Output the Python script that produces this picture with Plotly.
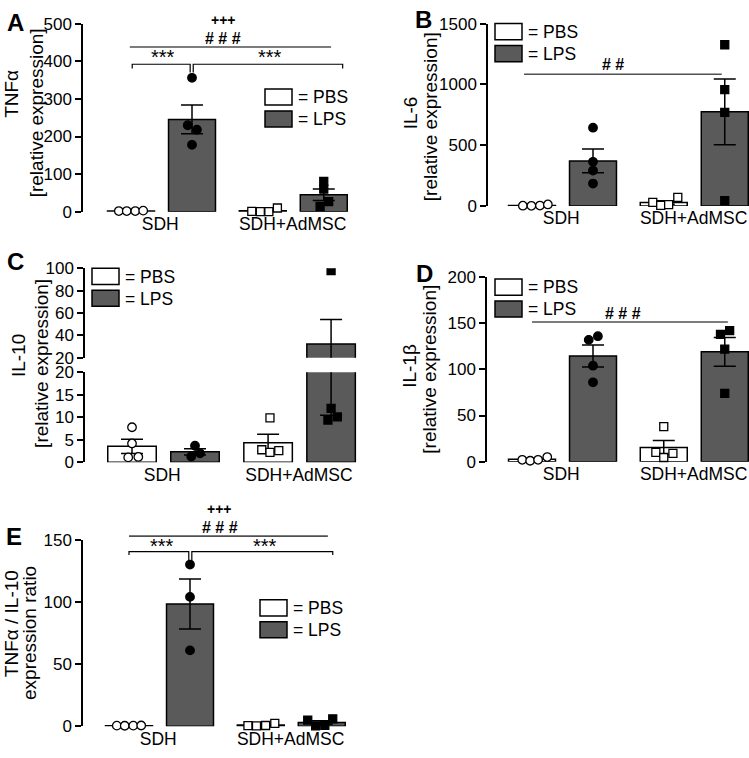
import numpy as np
import plotly.graph_objects as go

W, H = 749, 758
FONT = "Liberation Sans, Arial, sans-serif"
DARK = "#5a5a5a"

# ---------------- data ----------------
groups = ["SDH", "SDH+AdMSC"]
treatments = ["PBS", "LPS"]

tnf_sdh_pbs = [2, 2, 2, 3]
tnf_sdh_lps = [356, 230, 218, 178]
tnf_ad_pbs = [1, 0.5, 0.5, 10]
tnf_ad_lps = [81, 60, 27, 14]

il6_sdh_pbs = [2, 1, 3, 12]
il6_sdh_lps = [644, 363, 291, 184]
il6_ad_pbs = [30, 5, 10, 70]
il6_ad_lps = [1326, 957, 770, 43]

il10_sdh_pbs = [7.8, 4.2, 1.1, 1.2]
il10_sdh_lps = [3.7, 2.0, 1.3]
il10_ad_pbs = [9.9, 2.8, 2.2, 2.6]
il10_ad_lps = [98, 12, 9.4, 10.1]

il1b_sdh_pbs = [2, 1, 2, 5]
il1b_sdh_lps = [132, 136, 104, 86]
il1b_ad_pbs = [38, 10, 4.5, 9]
il1b_ad_lps = [138, 142, 122, 74]

ratio_sdh_pbs = [0.5, 0.4, 0.5, 0.6]
ratio_sdh_lps = [130, 104, 61]
ratio_ad_pbs = [0.5, 0.3, 0.6, 2.4]
ratio_ad_lps = [5, 0.3, 0.8, 6]

yticks_A = [0, 100, 200, 300, 400, 500]
yticks_B = [0, 500, 1000, 1500]
yticks_C_lo = [0, 5, 10, 15, 20]
yticks_C_hi = [20, 40, 60, 80, 100]
yticks_D = [0, 50, 100, 150, 200]
yticks_E = [0, 50, 100, 150]

# ---------------- geometry (pixels) ----------------
POS = [0, 1, 2.16, 3.16]
BAR_W = 0.77
GROUP_TICKS = [0.48, 2.65]

P = {
    "A": dict(xa=83, xr=365, c0=131, u=61, ybot=208, ytop=15, ylo=0, yhi=500),
    "B": dict(xa=488, xr=749, c0=532, u=61, ybot=202, ytop=15, ylo=0, yhi=1500),
    "Clo": dict(xa=85, xr=365, c0=132, u=63, ybot=465, ytop=372.7, ylo=0, yhi=20),
    "Chi": dict(xa=85, xr=365, c0=132, u=63, ybot=357.7, ytop=266, ylo=20, yhi=100),
    "D": dict(xa=487, xr=749, c0=532, u=61, ybot=464.3, ytop=275, ylo=0, yhi=200),
    "E": dict(xa=83, xr=365, c0=129, u=61, ybot=735.7, ytop=544.3, ylo=0, yhi=150),
}

JIT = {
    "A": [[-0.2, -0.07, 0.07, 0.2], [0, -0.07, 0.08, 0], [-0.18, -0.04, 0.1, 0.24], [0, 0, 0.08, -0.06]],
    "B": [[-0.15, -0.01, 0.13, 0.26], [0, 0, 0, 0], [-0.18, -0.05, 0.08, 0.23], [0, 0, 0, 0]],
    "C": [[0, 0, -0.06, 0.1], [0, 0.08, -0.06], [0.03, -0.1, 0.03, 0.17], [0, 0, -0.05, 0.1]],
    "D": [[-0.16, -0.03, 0.1, 0.25], [-0.07, 0.08, 0, 0], [0, -0.13, 0, 0.15], [-0.07, 0.08, 0, 0]],
    "E": [[-0.2, -0.07, 0.07, 0.2], [0, 0, 0], [-0.21, -0.07, 0.08, 0.23], [-0.23, -0.1, 0.05, 0.18]],
}


def xr_(p):
    return [(p["xa"] - p["c0"]) / p["u"], (p["xr"] - p["c0"]) / p["u"]]


def xdom(p):
    return [p["xa"] / W, p["xr"] / W]


def ydom(p):
    return [1 - p["ybot"] / H, 1 - p["ytop"] / H]


def dx(p, pos):
    return (p["c0"] + pos * p["u"]) / W


def dy(p, v):
    py = p["ybot"] - (v - p["ylo"]) * (p["ybot"] - p["ytop"]) / (p["yhi"] - p["ylo"])
    return 1 - py / H


fig = go.Figure()


def add_panel(xname, yname, series, jit, clip):
    means = [float(np.mean(s)) for s in series]
    sems = [float(np.std(s, ddof=1) / np.sqrt(len(s))) for s in series]
    fig.add_trace(go.Bar(
        x=POS, y=means, width=BAR_W, xaxis=xname, yaxis=yname,
        marker=dict(color=["white", DARK, "white", DARK], line=dict(color="black", width=1.5)),
        error_y=dict(type="data", array=sems, visible=True, color="black", thickness=1.5, width=11),
        showlegend=False, hoverinfo="skip"))
    for i, s in enumerate(series):
        sym = "circle" if i < 2 else "square"
        fill = "white" if i % 2 == 0 else "black"
        fig.add_trace(go.Scatter(
            x=[POS[i] + j for j in jit[i]], y=s, mode="markers", xaxis=xname, yaxis=yname,
            cliponaxis=clip,
            marker=dict(symbol=sym, size=8.5 if i < 2 else 8, color=fill,
                        line=dict(color="black", width=1.3)),
            showlegend=False, hoverinfo="skip"))


add_panel("x", "y", [tnf_sdh_pbs, tnf_sdh_lps, tnf_ad_pbs, tnf_ad_lps], JIT["A"], False)
add_panel("x2", "y2", [il6_sdh_pbs, il6_sdh_lps, il6_ad_pbs, il6_ad_lps], JIT["B"], False)
add_panel("x3", "y3", [il10_sdh_pbs, il10_sdh_lps, il10_ad_pbs, il10_ad_lps], JIT["C"], True)
add_panel("x3", "y4", [il10_sdh_pbs, il10_sdh_lps, il10_ad_pbs, il10_ad_lps], JIT["C"], True)
add_panel("x4", "y5", [il1b_sdh_pbs, il1b_sdh_lps, il1b_ad_pbs, il1b_ad_lps], JIT["D"], False)
add_panel("x5", "y6", [ratio_sdh_pbs, ratio_sdh_lps, ratio_ad_pbs, ratio_ad_lps], JIT["E"], False)


def xaxis_cfg(p, anchor):
    return dict(domain=xdom(p), range=xr_(p), anchor=anchor, showline=False, showgrid=False,
                zeroline=False, ticks="", tickmode="array", tickvals=GROUP_TICKS, ticktext=groups,
                ticklabeloverflow="allow",
                tickfont=dict(size=17.5, family=FONT, color="black"), fixedrange=True)


def yaxis_cfg(p, anchor, ticks):
    return dict(domain=ydom(p), range=[p["ylo"], p["yhi"]], anchor=anchor, showline=True,
                linewidth=1.5, linecolor="black", ticks="outside", ticklen=6, tickwidth=1.5,
                tickcolor="black", tickmode="array", tickvals=ticks, showgrid=False, zeroline=False,
                ticklabeloverflow="allow",
                tickfont=dict(size=17, family=FONT, color="black"), fixedrange=True)


fig.update_layout(
    width=W, height=H, margin=dict(l=0, r=0, t=0, b=0),
    paper_bgcolor="white", plot_bgcolor="white", showlegend=False,
    font=dict(family=FONT, color="black"),
    xaxis=xaxis_cfg(P["A"], "y"), yaxis=yaxis_cfg(P["A"], "x", yticks_A),
    xaxis2=xaxis_cfg(P["B"], "y2"), yaxis2=yaxis_cfg(P["B"], "x2", yticks_B),
    xaxis3=xaxis_cfg(P["Clo"], "y3"), yaxis3=yaxis_cfg(P["Clo"], "x3", yticks_C_lo),
    yaxis4=yaxis_cfg(P["Chi"], "x3", yticks_C_hi),
    xaxis4=xaxis_cfg(P["D"], "y5"), yaxis5=yaxis_cfg(P["D"], "x4", yticks_D),
    xaxis5=xaxis_cfg(P["E"], "y6"), yaxis6=yaxis_cfg(P["E"], "x5", yticks_E),
)

ann = []
shapes = []


def text(x, y, s, size=16, bold=False, angle=0, xanchor="center"):
    ann.append(dict(x=x, y=y, xref="paper", yref="paper", text=("<b>%s</b>" % s) if bold else s,
                    showarrow=False, xanchor=xanchor, yanchor="middle", textangle=angle,
                    font=dict(size=size, family=FONT, color="black")))


# panel letters
for L, (lx, ly) in {"A": (15, 14), "B": (423, 11), "C": (15, 259), "D": (424, 271), "E": (14, 541)}.items():
    text(lx / W, 1 - ly / H, L, size=24, bold=True)

# y-axis titles
for s, (tx, ty) in [("TNFα", (12, 87)), ("[relative expression]", (36, 107)),
                    ("IL-6", (410, 107)), ("[relative expression]", (430, 111)),
                    ("IL-10", (18, 356)), ("[relative expression]", (42, 364)),
                    ("IL-1β", (410, 366)), ("[relative expression]", (430, 370)),
                    ("TNFα / IL-10", (11, 631)), ("expression ratio", (30, 640))]:
    text(tx / W, 1 - ty / H, s, size=19, angle=-90)

# legends
for (lx, ly) in [(265, 82), (495, 15), (92, 266), (495, 277), (260, 606)]:
    for k, (lab, col) in enumerate(zip(treatments, ["white", DARK])):
        top = ly + k * 22.5
        shapes.append(dict(type="rect", xref="paper", yref="paper", x0=lx / W, x1=(lx + 27) / W,
                           y0=1 - (top + 16.5) / H, y1=1 - top / H, fillcolor=col,
                           line=dict(color="black", width=1.5)))
        text((lx + 31) / W, 1 - (top + 8.5) / H, "= " + lab, size=17.5, xanchor="left")


def hline(p, x0, x1, y, color="#505050", width=1.6):
    shapes.append(dict(type="line", xref="paper", yref="paper", x0=dx(p, x0), x1=dx(p, x1),
                       y0=dy(p, y), y1=dy(p, y), line=dict(color=color, width=width)))


def bracket(p, x0, x1, y, yl, yr):
    path = "M %f,%f L %f,%f L %f,%f L %f,%f" % (dx(p, x0), dy(p, yl), dx(p, x0), dy(p, y),
                                                dx(p, x1), dy(p, y), dx(p, x1), dy(p, yr))
    shapes.append(dict(type="path", xref="paper", yref="paper", path=path,
                       line=dict(color="black", width=1.2)))


def ptext(p, x, y, s, size=16, bold=False):
    text(dx(p, x), dy(p, y), s, size=size, bold=bold)


# significance A
pA = P["A"]
ptext(pA, 1.51, 510, "+++", size=14, bold=True)
ptext(pA, 1.51, 460, "# # #", size=16, bold=True)
hline(pA, -0.02, 3.28, 438)
ptext(pA, 0.52, 412, "***", size=20)
ptext(pA, 2.28, 412, "***", size=20)
bracket(pA, 0.02, 0.97, 392, 381, 370)
bracket(pA, 1.02, 3.47, 392, 370, 381)

# significance B
pB = P["B"]
hline(pB, -0.13, 3.11, 1083)
ptext(pB, 1.33, 1160, "# #", size=16, bold=True)

# significance D
pD = P["D"]
hline(pD, 0.0, 3.21, 151.4)
ptext(pD, 1.49, 160.5, "# # #", size=16, bold=True)

# significance E
pE = P["E"]
ptext(pE, 1.49, 174.8, "+++", size=14, bold=True)
ptext(pE, 1.49, 159.6, "# # #", size=16, bold=True)
hline(pE, 0.0, 3.26, 152.8)
ptext(pE, 0.54, 144.8, "***", size=20)
ptext(pE, 2.23, 144.8, "***", size=20)
bracket(pE, 0.0, 0.98, 140.3, 137.7, 133)
bracket(pE, 1.03, 3.34, 140.3, 133, 137.7)

fig.update_layout(annotations=ann, shapes=shapes)

POST = (
    "var h=document.documentElement,b=document.body;"
    "h.style.margin='0';h.style.padding='0';h.style.overflow='hidden';"
    "b.style.margin='0';b.style.padding='0';b.style.overflow='hidden';"
    "var d=document.querySelector('.plotly-graph-div');"
    "d.style.position='absolute';d.style.left='0px';d.style.top='0px';"
)

fig.write_html("out.html", config={"displayModeBar": False}, post_script=POST)
